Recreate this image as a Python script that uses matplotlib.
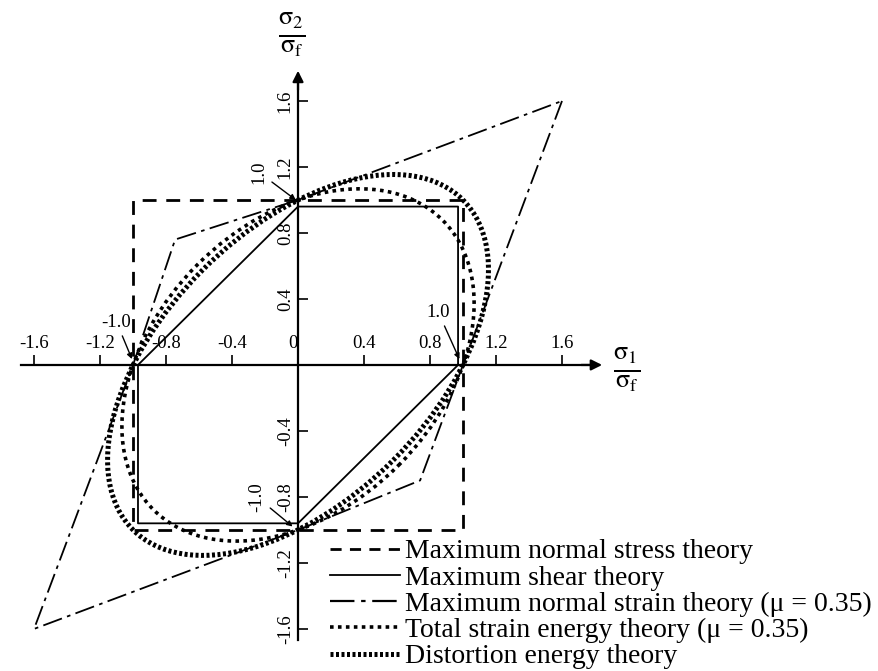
import numpy as np
import matplotlib
matplotlib.use("Agg")
import matplotlib.pyplot as plt
from matplotlib.patches import Ellipse

plt.rcParams['font.family'] = ['Liberation Serif', 'DejaVu Serif']
plt.rcParams['mathtext.fontset'] = 'stix'

# failure envelopes in the sigma1/sigma_f - sigma2/sigma_f plane
stress_x = [1.0, -1.0, -1.0, 1.0, 1.0]
stress_y = [1.0, 1.0, -1.0, -1.0, 1.0]

shear_x = [0.97, 0.97, 0.0, -0.97, -0.97, 0.0, 0.97]
shear_y = [0.0, 0.96, 0.96, 0.0, -0.96, -0.96, 0.0]

strain_x = [1.6, 1.0, 0.74, 0.0, -1.6, -1.0, -0.745, 0.0, 1.6]
strain_y = [1.6, 0.0, -0.7, -1.0, -1.6, 0.0, 0.76, 1.0, 1.6]

# ellipses: semi-axis along the 45 deg line, semi-axis across it
total_energy_axes = (1.24, 0.861)
distortion_axes = (1.414, 0.816)

ticks = [-1.6, -1.2, -0.8, -0.4, 0.0, 0.4, 0.8, 1.2, 1.6]
xtick_labels = ['-1.6', '-1.2', '-0.8', '-0.4', '0', '0.4', '0.8', '1.2', '1.6']
ytick_vals = [-1.6, -1.2, -0.8, -0.4, 0.4, 0.8, 1.2, 1.6]
ytick_labels = ['-1.6', '-1.2', '-0.8', '-0.4', '0.4', '0.8', '1.2', '1.6']

labels = ['Maximum normal stress theory',
          'Maximum shear theory',
          'Maximum normal strain theory (\u03bc = 0.35)',
          'Total strain energy theory (\u03bc = 0.35)',
          'Distortion energy theory']

fig = plt.figure(figsize=(8.79, 6.71), dpi=100)
ax = fig.add_axes([0, 0, 1, 1])
ax.set_xlim(-1.806, 3.521)
ax.set_ylim(-1.855, 2.212)
ax.set_aspect('equal')

# axes through the origin
for s in ['right', 'bottom']:
    ax.spines[s].set_visible(False)
ax.spines['top'].set_position(('data', 0))
ax.spines['top'].set_bounds(-1.68, 1.8)
ax.spines['left'].set_position(('data', 0))
ax.spines['left'].set_bounds(-1.67, 1.75)
ax.spines['top'].set_linewidth(1.6)
ax.spines['left'].set_linewidth(1.6)
ax.xaxis.tick_top()
ax.set_xticks(ticks)
ax.set_xticklabels(xtick_labels)
ax.set_yticks(ytick_vals)
ax.set_yticklabels(ytick_labels, rotation=90, va='center')
ax.tick_params(axis='x', direction='out', length=7, width=1.2, pad=2, labelsize=13.5)
ax.tick_params(axis='y', direction='in', length=7, width=1.2, pad=3, labelsize=13.5)
ax.get_xticklabels()[4].set_ha('right')

ax.annotate('', xy=(1.86, 0), xytext=(1.7, 0),
            arrowprops=dict(arrowstyle='-|>', color='black', lw=1.6, mutation_scale=16))
ax.annotate('', xy=(0, 1.8), xytext=(0, 1.65),
            arrowprops=dict(arrowstyle='-|>', color='black', lw=1.6, mutation_scale=16))
ax.text(1.99, -0.03, r'$\frac{\mathrm{σ_1}}{\mathrm{σ_f}}$', fontsize=27, ha='center', va='center')
ax.text(-0.04, 2.0, r'$\frac{\mathrm{σ_2}}{\mathrm{σ_f}}$', fontsize=27, ha='center', va='center')

ax.plot(stress_x, stress_y, color='black', lw=2.0, dashes=(5, 3.5))
ax.plot(shear_x, shear_y, color='black', lw=1.3)
ax.plot(strain_x, strain_y, color='black', lw=1.3, dashes=(11, 3, 2, 3))

ax.add_patch(Ellipse((0, 0), 2 * total_energy_axes[0], 2 * total_energy_axes[1],
                     angle=45, fill=False, ec='black', lw=2.6, ls=(0, (1, 1.2))))
ax.add_patch(Ellipse((0, 0), 2 * distortion_axes[0], 2 * distortion_axes[1],
                     angle=45, fill=False, ec='black', lw=3.6, ls=(0, (0.6, 0.5))))

# unit strength markers
arrow = dict(arrowstyle='-|>', color='black', lw=1.0, mutation_scale=8)
ax.annotate('1.0', xy=(0.0, 0.99), xytext=(-0.24, 1.17), fontsize=13.5, rotation=90,
            ha='center', va='center', arrowprops=arrow)
ax.annotate('1.0', xy=(0.985, 0.02), xytext=(0.85, 0.32), fontsize=13.5,
            ha='center', va='center', arrowprops=arrow)
ax.annotate('-1.0', xy=(-1.0, 0.02), xytext=(-1.1, 0.26), fontsize=13.5,
            ha='center', va='center', arrowprops=arrow)
ax.annotate('-1.0', xy=(-0.02, -0.99), xytext=(-0.25, -0.8), fontsize=13.5, rotation=90,
            ha='center', va='center', arrowprops=arrow)

handles = [
    ax.plot([], [], color='black', lw=2.0, dashes=(4, 3))[0],
    ax.plot([], [], color='black', lw=1.3)[0],
    ax.plot([], [], color='black', lw=1.6, dashes=(11, 3, 2, 3))[0],
    ax.plot([], [], color='black', lw=2.6, ls=(0, (1, 1.2)))[0],
    ax.plot([], [], color='black', lw=3.6, ls=(0, (0.6, 0.5)))[0],
]
ax.legend(handles, labels, loc='upper left', bbox_to_anchor=(0.375, 0.197),
          frameon=False, fontsize=20, handlelength=2.55, handletextpad=0.15,
          labelspacing=0.03, borderpad=0, borderaxespad=0)

fig.savefig('out.png', dpi=100)
